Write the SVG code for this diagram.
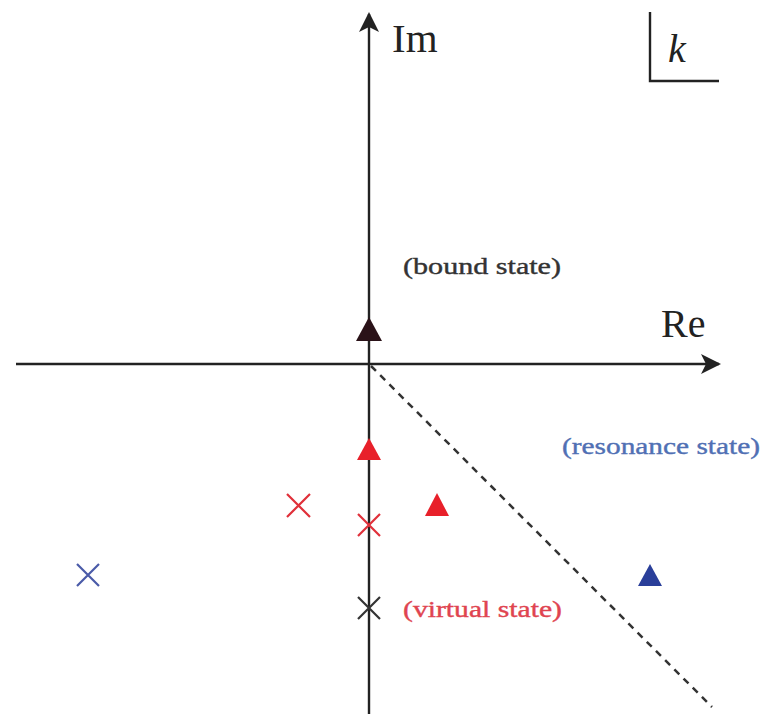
<svg xmlns="http://www.w3.org/2000/svg" width="771" height="714" viewBox="0 0 771 714">
<style>
.ax{stroke:#222;stroke-width:2.4;fill:none}
.lbl{font-family:"Liberation Serif",serif;fill:#222}
.st{font-family:"Liberation Serif",serif;font-size:24px;stroke-width:0.4}
.xr{stroke:#e0303a;stroke-width:2.2}
.xb{stroke:#4a5aa8;stroke-width:2.2}
.xk{stroke:#333;stroke-width:2.2}
</style>
<defs>
<marker id="ah" viewBox="0 0 20 20" refX="18" refY="10" markerWidth="20" markerHeight="20" markerUnits="userSpaceOnUse" orient="auto">
<path d="M0,0 L20,10 L0,20 L5,10 Z" fill="#222"/>
</marker>
</defs>
<rect width="771" height="714" fill="#fff"/>
<g id="connectors">
<line id="im-axis" class="ax" x1="369" y1="714" x2="369" y2="14" marker-end="url(#ah)"/>
<line id="re-axis" class="ax" x1="16" y1="364" x2="719" y2="364" marker-end="url(#ah)"/>
<line id="cut" x1="371" y1="366" x2="712" y2="707" stroke="#333" stroke-width="2.5" stroke-dasharray="7,6"/>
<path id="k-box" d="M650,12 V81 H719" class="ax"/>
</g>
<g id="labels">
<text class="lbl" x="392" y="52" font-size="41">Im</text>
<text class="lbl" x="661" y="337" font-size="40">Re</text>
<text class="lbl" x="668" y="62" font-size="40" font-style="italic">k</text>
</g>
<g id="bound-state">
<path d="M369,317 L382,341 L356,341 Z" fill="#2a1218"/>
<text class="st" x="403" y="274" fill="#333" stroke="#333" textLength="158" lengthAdjust="spacingAndGlyphs">(bound state)</text>
</g>
<g id="resonance-state">
<path d="M650,564 L662,586 L638,586 Z" fill="#2a3f9a"/>
<text class="st" x="562" y="454" fill="#5070b4" stroke="#5070b4" textLength="198" lengthAdjust="spacingAndGlyphs">(resonance state)</text>
</g>
<g id="red-triangles">
<path d="M369,438 L381,460 L357,460 Z" fill="#e8202a"/>
<path d="M437,493 L449,516 L425,516 Z" fill="#e8202a"/>
</g>
<g id="red-crosses">
<path class="xr" d="M287,494 L310,517 M310,494 L287,517"/>
<path class="xr" d="M358,514 L380,536 M380,514 L358,536"/>
</g>
<g id="blue-cross">
<path class="xb" d="M77,564 L99,586 M99,564 L77,586"/>
</g>
<g id="virtual-state">
<path class="xk" d="M358,597 L380,619 M380,597 L358,619"/>
<text class="st" x="403" y="617" fill="#e04450" stroke="#e04450" textLength="159" lengthAdjust="spacingAndGlyphs">(virtual state)</text>
</g>
</svg>
